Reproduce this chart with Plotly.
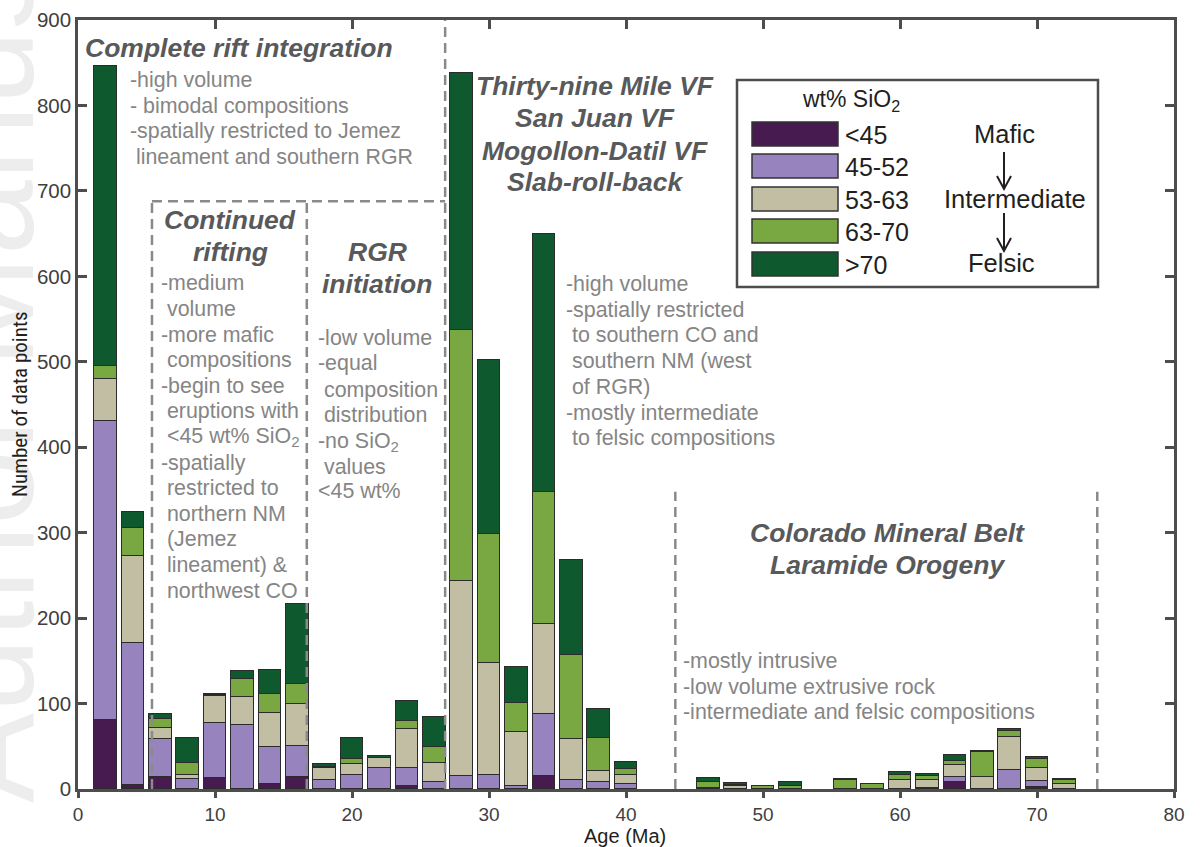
import plotly.graph_objects as go

# ---------------- data ----------------
ages = [2, 4, 6, 8, 10, 12, 14, 16, 18, 20, 22, 24, 26, 28, 30, 32, 34, 36, 38, 40,
        42, 44, 46, 48, 50, 52, 54, 56, 58, 60, 62, 64, 66, 68, 70, 72]

sio2_lt45 = [81, 5, 14, 0, 13, 0, 6, 14, 0, 0, 0, 3, 0, 0, 0, 0, 15, 0, 0, 0,
             0, 0, 0, 0, 0, 0, 0, 0, 0, 0, 0, 8, 0, 0, 2, 0]
sio2_45_52 = [350, 166, 45, 12, 64, 75, 43, 36, 11, 16, 25, 22, 8, 15, 16, 4, 73, 10, 8, 6,
              0, 0, 0, 0, 0, 0, 0, 0, 0, 0, 1, 6, 0, 22, 7, 0]
sio2_53_63 = [49, 102, 12, 4, 32, 33, 40, 49, 14, 13, 11, 45, 22, 229, 131, 63, 105, 48, 13, 10,
              0, 0, 1, 3, 0, 0, 0, 0, 0, 10, 10, 14, 14, 39, 16, 6]
sio2_63_70 = [15, 32, 11, 14, 1, 21, 22, 24, 1, 6, 0, 10, 19, 293, 151, 34, 155, 99, 39, 7,
              0, 0, 7, 2, 4, 4, 0, 11, 6, 6, 4, 5, 29, 7, 10, 4]
sio2_gt70 = [351, 19, 6, 30, 1, 9, 28, 94, 3, 25, 3, 23, 35, 301, 204, 42, 302, 111, 34, 9,
             0, 0, 5, 2, 0, 4, 0, 1, 0, 4, 3, 7, 2, 2, 2, 2]

series_names = ["<45", "45-52", "53-63", "63-70", ">70"]
series_colors = ["#471b50", "#9784bf", "#c2bea3", "#79a843", "#0e5a2e"]
x_ticks = [0, 10, 20, 30, 40, 50, 60, 70, 80]
y_ticks = [0, 100, 200, 300, 400, 500, 600, 700, 800, 900]

# ---------------- figure ----------------
W, H = 1200, 847
ML, MR, MT, MB = 78, 26, 20, 58
PW, PH = W - ML - MR, H - MT - MB

def px(p):
    return (p - ML) / PW

def py(p):
    return (H - MB - p) / PH

FONT = "Liberation Sans, Arial, Helvetica, sans-serif"
TITLE_C = "#58595b"
DESC_C = "#858585"
INK = "#231f20"

fig = go.Figure()
all_series = [sio2_lt45, sio2_45_52, sio2_53_63, sio2_63_70, sio2_gt70]
for name, vals, col in zip(series_names, all_series, series_colors):
    fig.add_trace(go.Bar(
        x=ages, y=[v if v else None for v in vals], name=name,
        width=1.65, marker=dict(color=col, line=dict(color="#2b2b2b", width=1)),
        showlegend=False))

# helper trace so the top axis (inside ticks) is drawn
fig.add_trace(go.Scatter(x=[], y=[], xaxis="x2", yaxis="y", showlegend=False, hoverinfo="skip"))

shapes = []
annotations = []

# faint watermark on the left edge (drawn first, so other texts lie above it)
annotations.append(dict(xref="paper", yref="paper", x=px(-14), y=py(805), text="Author Manuscript",
                        showarrow=False, xanchor="center", yanchor="bottom", textangle=-90,
                        font=dict(family=FONT, size=135, color="#ededed")))

dash_line = dict(color="#8a8a8a", width=2.5, dash="10px,6px")
# region boxes (data coordinates)
shapes.append(dict(type="line", xref="x", yref="y", x0=26.8, x1=26.8, y0=0, y1=900, line=dash_line))
shapes.append(dict(type="line", xref="x", yref="y", x0=5.4, x1=5.4, y0=0, y1=688, line=dash_line))
shapes.append(dict(type="line", xref="x", yref="y", x0=16.7, x1=16.7, y0=0, y1=688, line=dash_line))
shapes.append(dict(type="line", xref="x", yref="y", x0=5.4, x1=26.8, y0=688, y1=688, line=dash_line))
shapes.append(dict(type="line", xref="x", yref="y", x0=43.6, x1=43.6, y0=0, y1=348, line=dash_line))
shapes.append(dict(type="line", xref="x", yref="y", x0=74.4, x1=74.4, y0=0, y1=348, line=dash_line))

# legend box
shapes.append(dict(type="rect", xref="paper", yref="paper", x0=px(737), x1=px(1098), y0=py(287), y1=py(80),
                   line=dict(color="#4d4d4d", width=2.5), fillcolor="white", layer="above"))
rows = [(122, 146), (154, 178), (187, 211), (219, 243), (252, 276)]
for (t, b), col, name in zip(rows, series_colors, series_names):
    shapes.append(dict(type="rect", xref="paper", yref="paper", x0=px(752), x1=px(838), y0=py(b), y1=py(t),
                       line=dict(color="#333333", width=1.5), fillcolor=col, layer="above"))
    annotations.append(dict(xref="paper", yref="paper", x=px(843), y=py((t + b) / 2 + 1), text=name,
                            showarrow=False, xanchor="left", yanchor="middle",
                            font=dict(family=FONT, size=25, color=INK)))
annotations.append(dict(xref="paper", yref="paper", x=px(851), y=py(101), text="wt% SiO<sub>2</sub>",
                        showarrow=False, xanchor="center", yanchor="middle",
                        font=dict(family=FONT, size=23, color=INK)))
for txt, cx, cy in [("Mafic", 1004, 134), ("Intermediate", 1015, 199), ("Felsic", 1001, 263)]:
    annotations.append(dict(xref="paper", yref="paper", x=px(cx), y=py(cy), text=txt,
                            showarrow=False, xanchor="center", yanchor="middle",
                            font=dict(family=FONT, size=25.5, color=INK)))
for y0, y1 in [(152, 189), (213, 251)]:
    x = 1004
    path = (f"M {px(x)},{py(y0)} L {px(x)},{py(y1)} "
            f"M {px(x - 7)},{py(y1 - 13)} L {px(x)},{py(y1)} L {px(x + 7)},{py(y1 - 13)}")
    shapes.append(dict(type="path", xref="paper", yref="paper", path=path,
                       line=dict(color=INK, width=2), layer="above"))

NB = "\u00a0"

def title(lines, x, ys, anchor):
    for line, y in zip(lines, ys):
        annotations.append(dict(xref="paper", yref="paper", x=px(x), y=py(y), text=line, showarrow=False,
                                xanchor=anchor, yanchor="middle",
                                font=dict(family=FONT, size=26.5, color=TITLE_C, weight="bold", style="italic")))

def desc(lines, x, ys):
    for line, y in zip(lines, ys):
        annotations.append(dict(xref="paper", yref="paper", x=px(x - 1), y=py(y), text=line,
                                showarrow=False, xanchor="left", yanchor="middle",
                                font=dict(family=FONT, size=21.4, color=DESC_C)))

title(["Complete rift integration"], 83, [48], "left")
desc(["-high volume", "- bimodal compositions", "-spatially restricted to Jemez",
      NB + "lineament and southern RGR"], 129, [80, 106, 131, 157])
title(["Continued", "rifting"], 230, [220, 252], "center")
desc(["-medium", NB + "volume", "-more mafic", NB + "compositions", "-begin to see",
      NB + "eruptions with", NB + "<45 wt% SiO<sub>2</sub>", "-spatially", NB + "restricted to",
      NB + "northern NM", NB + "(Jemez", NB + "lineament) &", NB + "northwest CO"], 160,
     [283.3 + 25.6 * i for i in range(13)])
title(["RGR", "initiation"], 377, [252, 283.5], "center")
desc(["-low volume", "-equal", NB + "composition", NB + "distribution", "-no SiO<sub>2</sub>",
      NB + "values", "<45 wt%"], 317, [338.3, 363.3, 390, 415, 441.7, 466.7, 491])
title(["Thirty-nine Mile VF", "San Juan VF", "Mogollon-Datil VF", "Slab-roll-back"], 595,
      [86, 118, 151, 182], "center")
desc(["-high volume", "-spatially restricted", NB + "to southern CO and", NB + "southern NM (west",
      NB + "of RGR)", "-mostly intermediate", NB + "to felsic compositions"], 565,
     [284, 310, 335, 361, 386.7, 412.7, 438.3])
title(["Colorado Mineral Belt", "Laramide Orogeny"], 887, [533, 565], "center")
desc(["-mostly intrusive", "-low volume extrusive rock", "-intermediate and felsic compositions"], 682,
     [661, 686.7, 712.3])

# axis titles (drawn above the watermark)
annotations.append(dict(xref="paper", yref="paper", x=px(20), y=py(404), text="Number of data points",
                        showarrow=False, xanchor="center", yanchor="middle", textangle=-90,
                        font=dict(family="Liberation Sans Narrow, Roboto Condensed, Arial Narrow, Liberation Sans",
                                  size=21, color=INK)))
annotations.append(dict(xref="paper", yref="paper", x=px(625), y=py(836), text="Age (Ma)",
                        showarrow=False, xanchor="center", yanchor="middle",
                        font=dict(family=FONT, size=20, color=INK)))

axis_c = "#4d4d4d"
fig.update_layout(
    width=W, height=H, barmode="stack", bargap=0,
    margin=dict(l=ML, r=MR, t=MT, b=MB, autoexpand=False),
    paper_bgcolor="white", plot_bgcolor="white",
    font=dict(family=FONT, color=INK),
    shapes=shapes, annotations=annotations,
    xaxis=dict(range=[0, 80], tickvals=x_ticks, ticks="outside", ticklen=6, tickwidth=2.5,
               tickcolor=axis_c, showline=True, linecolor=axis_c, linewidth=2.5, mirror=True,
               showgrid=False, zeroline=False, tickfont=dict(size=19, color="#404040")),
    xaxis2=dict(range=[0, 80], tickvals=x_ticks, overlaying="x", side="top", ticks="inside",
                ticklen=9, tickwidth=2.5, tickcolor=axis_c, showticklabels=False,
                showline=False, showgrid=False, zeroline=False),
    yaxis=dict(range=[0, 900], tickvals=y_ticks, ticks="inside", ticklen=9, tickwidth=2.5,
               tickcolor=axis_c, showline=True, linecolor=axis_c, linewidth=2.5, mirror="ticks",
               showgrid=False, zeroline=False, tickfont=dict(size=20.5, color="#404040")),
)

fig.write_html("out.html", config={"displayModeBar": False},
               post_script="document.body.style.margin='0';")
